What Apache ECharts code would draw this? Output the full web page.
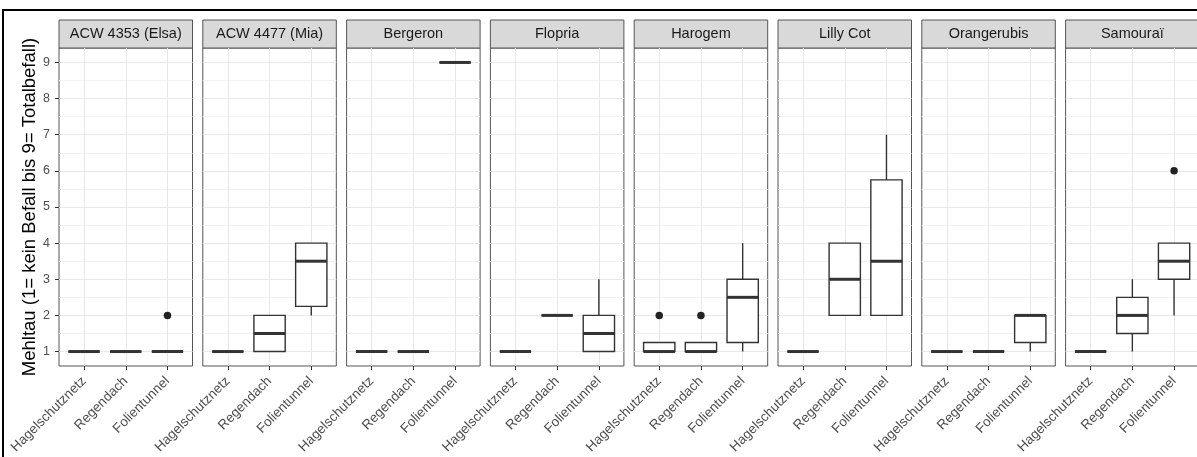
<!DOCTYPE html>
<html>
<head>
<meta charset="utf-8">
<title>Mehltau</title>
<script src="https://cdn.jsdelivr.net/npm/echarts@6.0.0/dist/echarts.min.js"></script>
<style>
  html, body { margin: 0; padding: 0; background: #fff; }
  #chart { width: 1197px; height: 457px; }
</style>
</head>
<body>
<div id="chart"></div>
<script>
// Sorten (Facetten) und Kulturbedingungen
var varieties = ['ACW 4353 (Elsa)', 'ACW 4477 (Mia)', 'Bergeron', 'Flopria', 'Harogem', 'Lilly Cot', 'Orangerubis', 'Samouraï'];
var conditions = ['Hagelschutznetz', 'Regendach', 'Folientunnel'];
var yTicks = [1, 2, 3, 4, 5, 6, 7, 8, 9];
var yMinorTicks = [1.5, 2.5, 3.5, 4.5, 5.5, 6.5, 7.5, 8.5];

// Boxplot-Werte je Bedingung: [min, q1, median, q3, max]
var elsa        = [[1, 1, 1, 1, 1], [1, 1, 1, 1, 1], [1, 1, 1, 1, 1]];
var mia         = [[1, 1, 1, 1, 1], [1, 1, 1.5, 2, 2], [2, 2.25, 3.5, 4, 4]];
var bergeron    = [[1, 1, 1, 1, 1], [1, 1, 1, 1, 1], [9, 9, 9, 9, 9]];
var flopria     = [[1, 1, 1, 1, 1], [2, 2, 2, 2, 2], [1, 1, 1.5, 2, 3]];
var harogem     = [[1, 1, 1, 1.25, 1.25], [1, 1, 1, 1.25, 1.25], [1, 1.25, 2.5, 3, 4]];
var lillyCot    = [[1, 1, 1, 1, 1], [2, 2, 3, 4, 4], [2, 2, 3.5, 5.75, 7]];
var orangerubis = [[1, 1, 1, 1, 1], [1, 1, 1, 1, 1], [1, 1.25, 2, 2, 2]];
var samourai    = [[1, 1, 1, 1, 1], [1, 1.5, 2, 2.5, 3], [2, 3, 3.5, 4, 4]];
var boxes = [elsa, mia, bergeron, flopria, harogem, lillyCot, orangerubis, samourai];

// Ausreisser: [Bedingungsindex, Wert]
var outliersElsa    = [[2, 2]];
var outliersHarogem = [[0, 2], [1, 2]];
var outliersSamourai = [[2, 6]];
var outliers = [outliersElsa, [], [], [], outliersHarogem, [], [], outliersSamourai];

// Layout
var FONT = '"Liberation Sans", Arial, sans-serif';
var LEFT0 = 59, STEP = 143.8, PW = 133.5;
var STRIP_TOP = 20, STRIP_H = 28, PTOP = 48, PH = 318;
var INK = '#333333';

var chart = echarts.init(document.getElementById('chart'));

function renderBox(params, api) {
    var x = api.value(0);
    var half = api.size([0.75, 0])[0] / 2;
    var lo = api.coord([x, api.value(1)]);
    var q1 = api.coord([x, api.value(2)]);
    var med = api.coord([x, api.value(3)]);
    var q3 = api.coord([x, api.value(4)]);
    var hi = api.coord([x, api.value(5)]);
    var st = { stroke: INK, lineWidth: 1.4, fill: null };
    return {
        type: 'group',
        children: [
            { type: 'line', shape: { x1: lo[0], y1: lo[1], x2: q1[0], y2: q1[1] }, style: st },
            { type: 'line', shape: { x1: q3[0], y1: q3[1], x2: hi[0], y2: hi[1] }, style: st },
            { type: 'rect', shape: { x: q3[0] - half, y: q3[1], width: 2 * half, height: q1[1] - q3[1] },
              style: { stroke: INK, lineWidth: 1.4, fill: '#ffffff' } },
            { type: 'line', shape: { x1: med[0] - half, y1: med[1], x2: med[0] + half, y2: med[1] },
              style: { stroke: INK, lineWidth: 3 } }
        ]
    };
}

var grids = [], xAxes = [], yAxes = [], minorAxes = [], series = [], graphics = [];

graphics.push({
    type: 'rect', silent: true, z: 100,
    shape: { x: 3, y: 10, width: 1400, height: 600 },
    style: { fill: null, stroke: '#000', lineWidth: 2 }
});

for (var i = 0; i < varieties.length; i++) {
    var left = LEFT0 + i * STEP;
    grids.push({
        left: left, top: PTOP, width: PW, height: PH,
        show: true, borderColor: '#555555', borderWidth: 1, backgroundColor: '#ffffff',
        outerBoundsMode: 'none'
    });
    xAxes.push({
        type: 'value', gridIndex: i, min: 0.4, max: 3.6,
        axisLine: { show: false },
        axisTick: { show: true, customValues: [1, 2, 3], length: 4, lineStyle: { color: INK } },
        axisLabel: {
            customValues: [1, 2, 3], rotate: 45, margin: 13,
            fontSize: 13.5, color: '#4d4d4d', fontFamily: FONT,
            formatter: function (v) { return conditions[Math.round(v) - 1]; }
        },
        splitLine: { show: true, lineStyle: { color: '#e8e8e8', width: 1 } }
    });
    yAxes.push({
        type: 'value', gridIndex: i, min: 0.6, max: 9.4,
        name: i === 0 ? 'Mehltau (1= kein Befall bis 9= Totalbefall)' : '',
        nameLocation: 'middle', nameGap: 20,
        nameTextStyle: { fontSize: 18.5, color: '#000', fontFamily: FONT },
        axisLine: { show: false },
        axisTick: { show: i === 0, customValues: yTicks, length: 4, lineStyle: { color: INK } },
        axisLabel: { show: i === 0, customValues: yTicks, margin: 9, fontSize: 12.5, color: '#4d4d4d', fontFamily: FONT },
        splitLine: { show: true, lineStyle: { color: '#e8e8e8', width: 1 } }
    });
    minorAxes.push({
        type: 'value', gridIndex: i, min: 0.6, max: 9.4, position: 'left',
        axisLine: { show: false },
        axisTick: { show: false, customValues: yMinorTicks },
        axisLabel: { show: false, customValues: yMinorTicks },
        splitLine: { show: true, lineStyle: { color: '#f2f2f2', width: 1 } }
    });

    var boxData = boxes[i].map(function (b, k) { return [k + 1].concat(b); });
    series.push({
        type: 'custom', xAxisIndex: i, yAxisIndex: i, z: 3,
        renderItem: renderBox,
        encode: { x: 0, y: [1, 2, 3, 4, 5] },
        data: boxData
    });
    if (outliers[i].length) {
        series.push({
            type: 'scatter', xAxisIndex: i, yAxisIndex: i, z: 4,
            symbolSize: 7.5, itemStyle: { color: '#222222', opacity: 1 },
            data: outliers[i].map(function (o) { return [o[0] + 1, o[1]]; })
        });
    }

    graphics.push({
        type: 'rect', silent: true,
        shape: { x: left, y: STRIP_TOP, width: PW, height: STRIP_H },
        style: { fill: '#d9d9d9', stroke: '#555555', lineWidth: 1 }
    });
    graphics.push({
        type: 'text', silent: true,
        style: {
            text: varieties[i], x: left + PW / 2, y: STRIP_TOP + STRIP_H / 2,
            align: 'center', verticalAlign: 'middle',
            fontSize: 14.5, fontFamily: FONT, fill: '#1a1a1a'
        }
    });
}

chart.setOption({
    backgroundColor: '#ffffff',
    animation: false,
    grid: grids,
    xAxis: xAxes,
    yAxis: yAxes.concat(minorAxes),
    series: series,
    graphic: graphics
});
</script>
</body>
</html>
